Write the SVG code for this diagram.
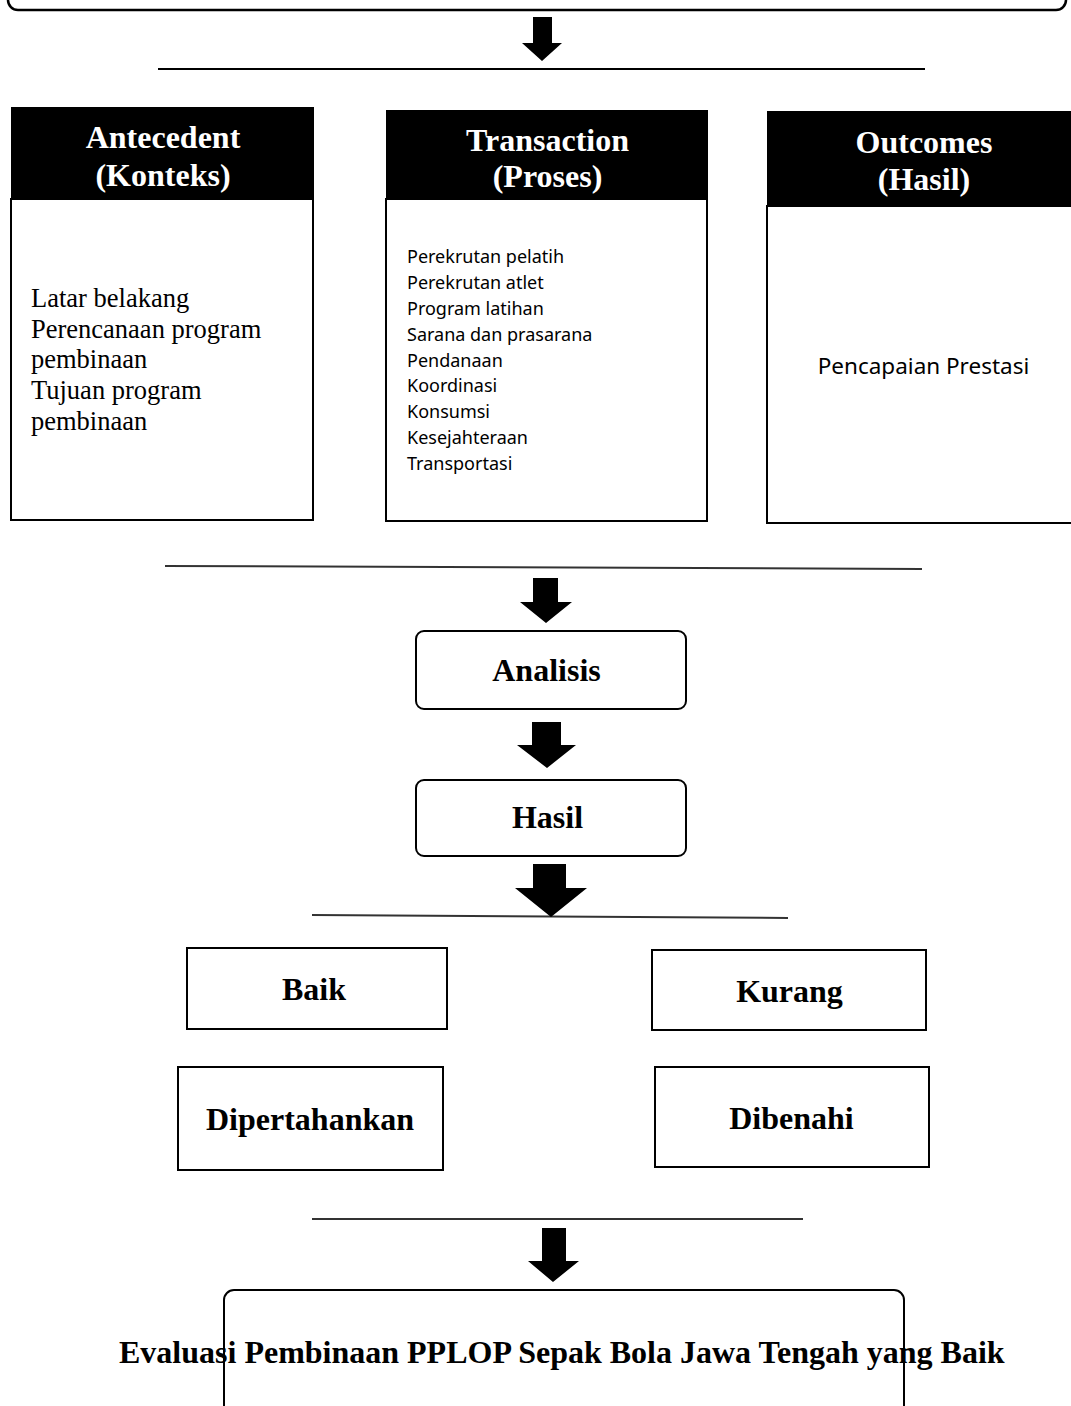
<svg xmlns="http://www.w3.org/2000/svg" width="1071" height="1406" viewBox="0 0 1071 1406">
<style>
.bx{fill:#fff;stroke:#000;stroke-width:2}
.hd{fill:#000}
.ln{stroke:#333;stroke-width:2;fill:none}
.ar{fill:#000}
.tb{font-family:"Liberation Serif","Times New Roman",serif;font-weight:bold;font-size:32px;fill:#000;text-anchor:middle}
.th{font-family:"Liberation Serif","Times New Roman",serif;font-weight:bold;font-size:32px;fill:#fff;text-anchor:middle}
.tr{font-family:"Liberation Serif","Times New Roman",serif;font-size:26.5px;fill:#000}
.ts{font-family:"Noto Sans","Open Sans",sans-serif;font-size:18px;fill:#000}
</style>
<rect width="1071" height="1406" fill="#fff"/>

<g id="top-box">
<rect x="8" y="-40" width="1058" height="50" rx="10" fill="#fff" stroke="#000" stroke-width="2.5"/>
</g>

<g id="antecedent">
<rect class="bx" x="11" y="199" width="302" height="321"/>
<rect class="hd" x="11" y="107" width="303" height="93"/>
<text class="th" x="163" y="148">Antecedent</text>
<text class="th" x="163" y="186">(Konteks)</text>
<text class="tr" x="31" y="307">Latar belakang</text>
<text class="tr" x="31" y="338">Perencanaan program</text>
<text class="tr" x="31" y="368">pembinaan</text>
<text class="tr" x="31" y="399">Tujuan program</text>
<text class="tr" x="31" y="430">pembinaan</text>
</g>

<g id="transaction">
<rect class="bx" x="386" y="199" width="321" height="322"/>
<rect class="hd" x="386" y="110" width="322" height="90"/>
<text class="th" x="547.5" y="151">Transaction</text>
<text class="th" x="547.5" y="187">(Proses)</text>
<text class="ts" x="407" y="263">Perekrutan pelatih</text>
<text class="ts" x="407" y="289">Perekrutan atlet</text>
<text class="ts" x="407" y="315">Program latihan</text>
<text class="ts" x="407" y="341">Sarana dan prasarana</text>
<text class="ts" x="407" y="367">Pendanaan</text>
<text class="ts" x="407" y="392">Koordinasi</text>
<text class="ts" x="407" y="418">Konsumsi</text>
<text class="ts" x="407" y="444">Kesejahteraan</text>
<text class="ts" x="407" y="470">Transportasi</text>
</g>

<g id="outcomes">
<rect class="bx" x="767" y="206" width="310" height="317"/>
<rect class="hd" x="767" y="111" width="310" height="96"/>
<text class="th" x="924" y="153">Outcomes</text>
<text class="th" x="924" y="190">(Hasil)</text>
<text class="ts" x="923.5" y="374" style="font-size:22.5px;text-anchor:middle">Pencapaian Prestasi</text>
</g>

<g id="analisis">
<rect class="bx" x="416" y="631" width="270" height="78" rx="8"/>
<text class="tb" x="546.5" y="681">Analisis</text>
</g>

<g id="hasil">
<rect class="bx" x="416" y="780" width="270" height="76" rx="8"/>
<text class="tb" x="547.5" y="828">Hasil</text>
</g>

<g id="baik">
<rect class="bx" x="187" y="948" width="260" height="81"/>
<text class="tb" x="314" y="1000">Baik</text>
</g>

<g id="kurang">
<rect class="bx" x="652" y="950" width="274" height="80"/>
<text class="tb" x="789.5" y="1002">Kurang</text>
</g>

<g id="dipertahankan">
<rect class="bx" x="178" y="1067" width="265" height="103"/>
<text class="tb" x="310" y="1130">Dipertahankan</text>
</g>

<g id="dibenahi">
<rect class="bx" x="655" y="1067" width="274" height="100"/>
<text class="tb" x="791.5" y="1129">Dibenahi</text>
</g>

<g id="evaluasi">
<rect x="224" y="1290" width="680" height="140" rx="10" fill="none" stroke="#000" stroke-width="2"/>
<text class="tb" x="119" y="1363" style="text-anchor:start">Evaluasi Pembinaan PPLOP Sepak Bola Jawa Tengah yang Baik</text>
</g>

<g id="connectors">
<line x1="158" y1="69" x2="925" y2="69" stroke="#000" stroke-width="1.8"/>
<line class="ln" x1="165" y1="566" x2="922" y2="569"/>
<line class="ln" x1="312" y1="915" x2="788" y2="918"/>
<line class="ln" x1="312" y1="1219" x2="803" y2="1219"/>
<polygon class="ar" points="533,17 552,17 552,43 562,43 542,61 522,43 533,43"/>
<polygon class="ar" points="533,578 558,578 558,602 572,602 546,623 520,602 533,602"/>
<polygon class="ar" points="532,722 561,722 561,745 576,745 547,768 517,745 532,745"/>
<polygon class="ar" points="533,864 566,864 566,888 587,888 551,917 515,888 533,888"/>
<polygon class="ar" points="542,1228 566,1228 566,1261 579,1261 553,1282 528,1261 542,1261"/>
</g>
</svg>
